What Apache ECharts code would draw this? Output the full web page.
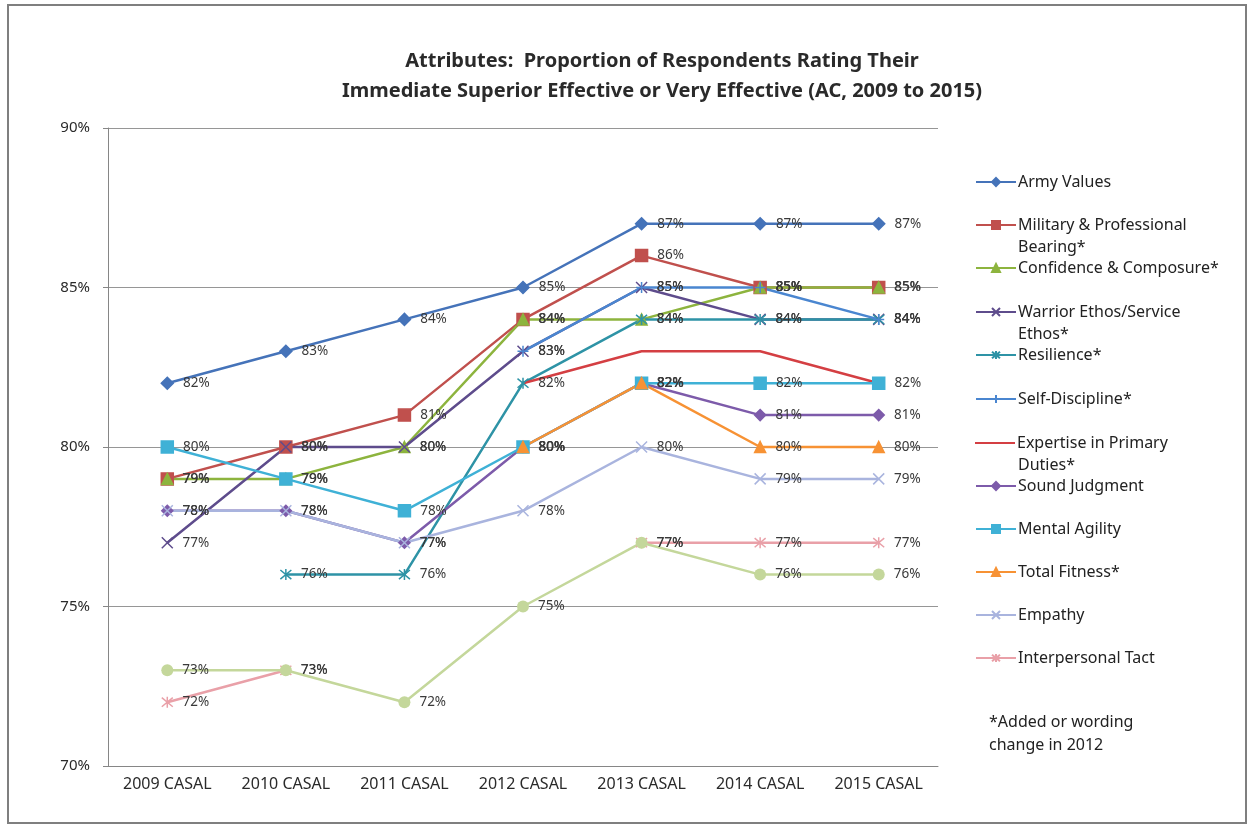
<!DOCTYPE html>
<html>
<head>
<meta charset="utf-8">
<script src="https://cdn.jsdelivr.net/npm/echarts@6/dist/echarts.min.js"></script>
<style>html,body{margin:0;padding:0;background:#fff}#c{width:1253px;height:828px}</style>
</head>
<body>
<div id="c"></div>
<script>
const categories = ['2009 CASAL','2010 CASAL','2011 CASAL','2012 CASAL','2013 CASAL','2014 CASAL','2015 CASAL'];
const yTicks = [70, 75, 80, 85, 90];

const armyValues       = [82, 83, 84, 85, 87, 87, 87];
const militaryBearing  = [79, 80, 81, 84, 86, 85, 85];
const confidence       = [79, 79, 80, 84, 84, 85, 85];
const warriorEthos     = [77, 80, 80, 83, 85, 84, 84];
const resilience       = [null, 76, 76, 82, 84, 84, 84];
const selfDiscipline   = [null, null, null, 83, 85, 85, 84];
const expertise        = [null, null, null, 82, 83, 83, 82];
const soundJudgment    = [78, 78, 77, 80, 82, 81, 81];
const mentalAgility    = [80, 79, 78, 80, 82, 82, 82];
const totalFitness     = [null, null, null, 80, 82, 80, 80];
const empathy          = [78, 78, 77, 78, 80, 79, 79];
const interpersonalTact= [72, 73, null, null, 77, 77, 77];
const unlabeledSeries  = [73, 73, 72, 75, 77, 76, 76];

const seriesNames = ['Army Values','Military & Professional Bearing*','Confidence & Composure*','Warrior Ethos/Service Ethos*','Resilience*','Self-Discipline*','Expertise in Primary Duties*','Sound Judgment','Mental Agility','Total Fitness*','Empathy','Interpersonal Tact'];
const legendFirstLines = ['Army Values','Military & Professional','Confidence & Composure*','Warrior Ethos/Service','Resilience*','Self-Discipline*','Expertise in Primary','Sound Judgment','Mental Agility','Total Fitness*','Empathy','Interpersonal Tact'];
const legendSecondLines = ['', 'Bearing*', '', 'Ethos*', '', '', 'Duties*', '', '', '', '', ''];
const footnote = ['*Added or wording', 'change in 2012'];
const titleText = 'Attributes:  Proportion of Respondents Rating Their\nImmediate Superior Effective or Very Effective (AC, 2009 to 2015)';

const FONT = '"Noto Sans", "Open Sans", sans-serif';
const X_SYM = 'path://M0,0L10,10M10,0L0,10';
const AST_SYM = 'path://M0,0L10,10M10,0L0,10M5,-1L5,11';
const PLUS_SYM = 'path://M5,0L5,10M0,5L10,5';

const styles = [
  {data: armyValues, color: '#4573B9', symbol: 'diamond', size: 12},
  {data: militaryBearing, color: '#C0504D', symbol: 'rect', size: 12},
  {data: confidence, color: '#8DB43E', symbol: 'triangle', size: 11},
  {data: warriorEthos, color: '#5E4C8C', symbol: X_SYM, size: 11},
  {data: resilience, color: '#2E93A6', symbol: AST_SYM, size: 11},
  {data: selfDiscipline, color: '#4A86D0', symbol: PLUS_SYM, size: 11},
  {data: expertise, color: '#D43F43', symbol: 'none', size: 0},
  {data: soundJudgment, color: '#7D5BAA', symbol: 'diamond', size: 11},
  {data: mentalAgility, color: '#3FB1D6', symbol: 'rect', size: 12},
  {data: totalFitness, color: '#F79234', symbol: 'triangle', size: 11},
  {data: empathy, color: '#A9B4DE', symbol: X_SYM, size: 11},
  {data: interpersonalTact, color: '#E9A0A8', symbol: AST_SYM, size: 11}
];

const LABEL = {show: true, position: 'right', distance: 9, formatter: '{c}%', color: '#3a3a3a', fontSize: 13.5, fontFamily: FONT};

const series = styles.map((s, i) => ({
  name: seriesNames[i],
  type: 'line',
  data: s.data,
  symbol: s.symbol,
  symbolSize: s.size,
  showSymbol: s.symbol !== 'none',
  connectNulls: false,
  lineStyle: {color: s.color, width: 2.5},
  itemStyle: {color: s.color, borderColor: s.color, borderWidth: 1.5},
  label: LABEL,
  emphasis: {disabled: true},
  animation: false
}));
series.push({
  name: 'Other',
  type: 'line',
  data: unlabeledSeries,
  symbol: 'circle',
  symbolSize: 12,
  lineStyle: {color: '#C4D79B', width: 2.5},
  itemStyle: {color: '#C4D79B'},
  label: LABEL,
  emphasis: {disabled: true},
  animation: false
});

const legendCenters = [185, 228, 271, 315, 358, 402, 446, 489, 532, 575, 618, 661];
const legends = seriesNames.map((n, i) => {
  const noMarker = styles[i].symbol === 'none';
  return {
    data: [noMarker ? {name: n, icon: 'rect', itemStyle: {borderWidth: 0}} : n],
    left: 975,
    top: legendCenters[i] - 11,
    padding: 0,
    itemWidth: 40,
    itemHeight: noMarker ? 2 : 10,
    itemGap: 4,
    selectedMode: false,
    formatter: () => legendFirstLines[i],
    textStyle: {fontSize: 16, color: '#222', fontFamily: FONT, padding: [0, 0, 0, -3]}
  };
});

const graphics = [
  {type: 'rect', shape: {x: 8, y: 5, width: 1238, height: 818}, style: {fill: 'none', stroke: '#7f7f7f', lineWidth: 2}, silent: true}
];
legendSecondLines.forEach((t, i) => {
  if (t) graphics.push({type: 'text', left: 1018, top: legendCenters[i] + 11, style: {text: t, fill: '#222', font: '16px ' + FONT}});
});
footnote.forEach((t, i) => {
  graphics.push({type: 'text', left: 989, top: 714 + i * 23, style: {text: t, fill: '#222', font: '16px ' + FONT}});
});

const chart = echarts.init(document.getElementById('c'), null, {renderer: 'canvas'});
chart.setOption({
  animation: false,
  backgroundColor: '#fff',
  title: {
    text: titleText,
    left: 657, top: 41, textAlign: 'center',
    textStyle: {fontSize: 20, fontWeight: 'bold', color: '#2a2a2a', fontFamily: FONT, lineHeight: 30}
  },
  grid: {left: 108, right: 315, top: 128, bottom: 62, containLabel: false},
  xAxis: {
    type: 'category', data: categories, boundaryGap: true,
    axisLine: {lineStyle: {color: '#868686', width: 1}},
    axisTick: {show: false},
    axisLabel: {color: '#2a2a2a', fontSize: 16, margin: 10, fontFamily: FONT}
  },
  yAxis: {
    type: 'value', min: yTicks[0], max: yTicks[yTicks.length - 1], interval: 5,
    axisLine: {show: true, lineStyle: {color: '#868686', width: 1}},
    axisTick: {show: true, length: 5, lineStyle: {color: '#868686'}},
    axisLabel: {color: '#2a2a2a', fontSize: 15, margin: 18, formatter: '{value}%', fontFamily: FONT},
    splitLine: {lineStyle: {color: '#969696', width: 1}}
  },
  legend: legends,
  graphic: graphics,
  series: series
});
</script>
</body>
</html>
